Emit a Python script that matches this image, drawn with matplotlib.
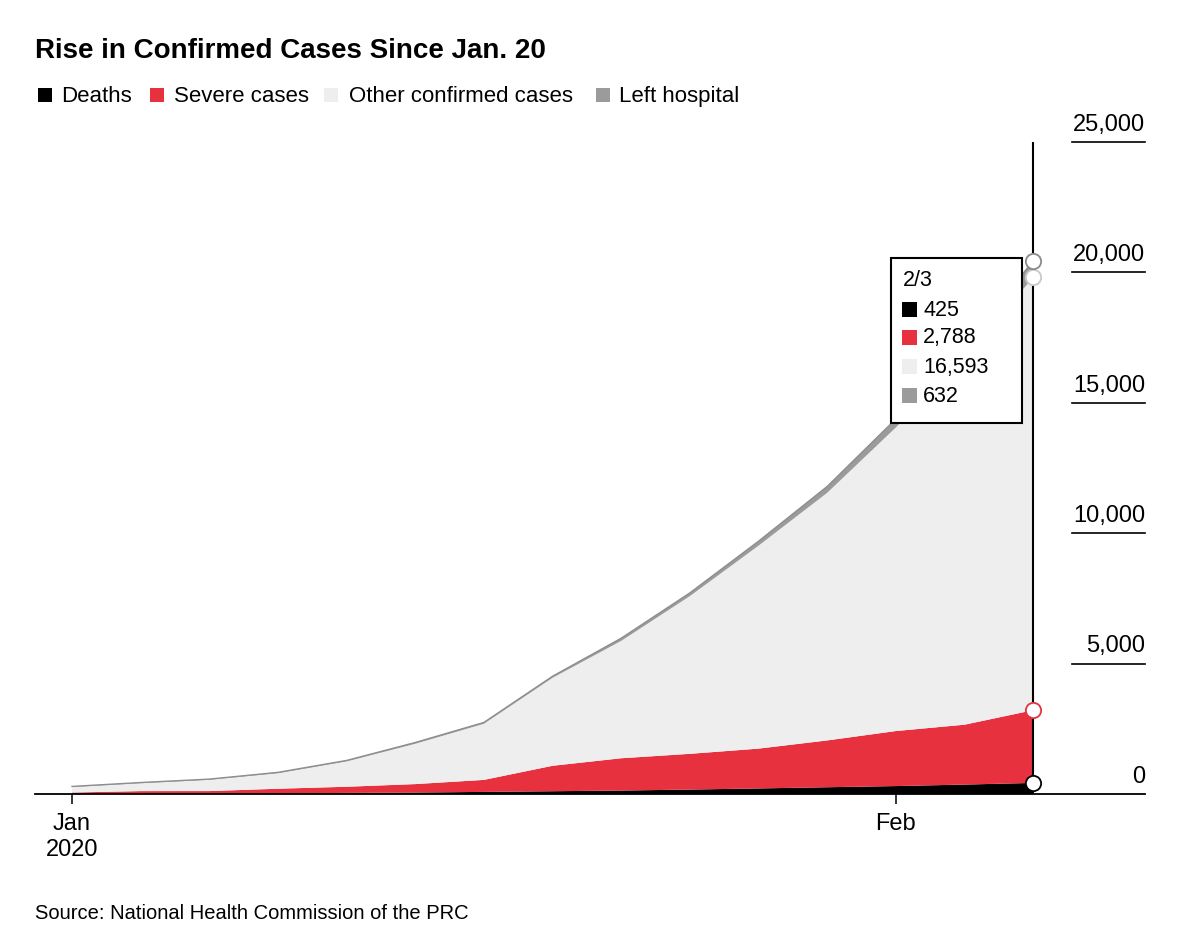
import matplotlib
matplotlib.use("Agg")
import matplotlib.pyplot as plt
import pandas as pd
from matplotlib.patches import Rectangle

plt.rcParams["font.family"] = ["Liberation Sans", "DejaVu Sans"]

# daily NHC figures, Jan 20 .. Feb 3
dates = pd.date_range("2020-01-20", "2020-02-03", freq="D")
deaths = [6, 9, 17, 25, 41, 56, 80, 106, 132, 170, 213, 259, 304, 361, 425]
severe = [51, 102, 95, 177, 237, 324, 461, 976, 1239, 1370, 1527, 1795, 2110, 2296, 2788]
other = [209, 301, 431, 594, 971, 1546, 2152, 3373, 4500, 6047, 7781, 9494, 11638, 14073, 16593]
left_hospital = [25, 28, 28, 34, 38, 49, 51, 60, 103, 124, 171, 243, 328, 475, 632]

series_names = ["Deaths", "Severe cases", "Other confirmed cases", "Left hospital"]
colors = ["#000000", "#E8313F", "#EEEEEE", "#9B9B9B"]
edge_cols = ["#000000", "#E8313F", "#C8C8C8", "#8A8A8A"]
y_ticks = [0, 5000, 10000, 15000, 20000, 25000]
x_ticks = [pd.Timestamp("2020-01-20"), pd.Timestamp("2020-02-01")]
x_ticklabels = ["Jan\n2020", "Feb"]

W, H = 1200, 951
fig = plt.figure(figsize=(12, 9.51), dpi=100)
ax = fig.add_axes([35 / W, (H - 794) / H, 1110 / W, 652 / H])

series = [deaths, severe, other, left_hospital]
ax.stackplot(dates, *series, colors=colors, linewidth=0, zorder=2)

# thin outline on top of the stack
tops = []
run = [0] * len(dates)
for s in series:
    run = [a + b for a, b in zip(run, s)]
    tops.append(run)
ax.plot(dates, tops[3], color="#8E8E8E", lw=1.0, zorder=3)

day = pd.Timedelta(days=1)
ax.set_xlim(dates[0] - 0.539 * day, dates[-1] + 1.63 * day)
ax.set_ylim(0, 25000)

for s in ["top", "left", "right"]:
    ax.spines[s].set_visible(False)
ax.spines["bottom"].set_linewidth(1.3)
ax.spines["bottom"].set_zorder(4)
ax.set_yticks([])
ax.set_xticks(x_ticks)
ax.set_xticklabels(x_ticklabels, fontsize=17)
ax.tick_params(axis="x", length=7, width=1.1, pad=7, color="black")

# right-hand value labels with short rules
ytr = ax.get_yaxis_transform()
for v in y_ticks:
    if v > 0:
        ax.plot([0.934, 1.0], [v, v], transform=ytr, color="black", lw=1.2,
                clip_on=False)
    ax.annotate(f"{v:,}", xy=(1.0, v), xycoords=ytr, xytext=(0, 8),
                textcoords="offset points", ha="right", va="baseline",
                fontsize=17)

# hover line + markers at last date
ax.axvline(dates[-1], color="black", lw=1.5, zorder=5)
for top, ec in zip(tops, edge_cols):
    ax.plot(dates[-1], top[-1], "o", ms=11, mfc="white", mec=ec, mew=1.3,
            zorder=6, clip_on=False)

# tooltip box
ax.add_patch(Rectangle((0.771, 0.569), 0.118, 0.253, transform=ax.transAxes,
                       fc="white", ec="black", lw=1.5, zorder=7))
fig.text(903 / W, 1 - 280 / H, f"{dates[-1].month}/{dates[-1].day}",
         fontsize=15.5, va="center", ha="left", zorder=8)
for i, (s, c) in enumerate(zip(series, colors)):
    yc = [310, 338, 367, 396][i]
    fig.patches.append(Rectangle((902 / W, 1 - (yc + 7) / H), 15 / W, 15 / H,
                                 transform=fig.transFigure, fc=c, ec="none",
                                 zorder=8))
    fig.text(923 / W, 1 - yc / H, f"{s[-1]:,}", fontsize=15.5, va="center",
             ha="left", zorder=8)

# title, legend, source
fig.text(35 / W, 1 - 58 / H, "Rise in Confirmed Cases Since Jan. 20",
         fontsize=20, fontweight="bold", va="baseline", ha="left")
leg_sq = [38, 150, 324, 596]
leg_tx = [61, 174, 349, 619]
for name, c, sx, tx in zip(series_names, colors, leg_sq, leg_tx):
    fig.patches.append(Rectangle((sx / W, 1 - 102 / H), 14 / W, 14 / H,
                                 transform=fig.transFigure, fc=c, ec="none"))
    fig.text(tx / W, 1 - 102 / H, name, fontsize=16, va="baseline", ha="left")
fig.text(35 / W, 1 - 919 / H, "Source: National Health Commission of the PRC",
         fontsize=14.5, va="baseline", ha="left")

fig.savefig("out.png", dpi=100, facecolor="white")
